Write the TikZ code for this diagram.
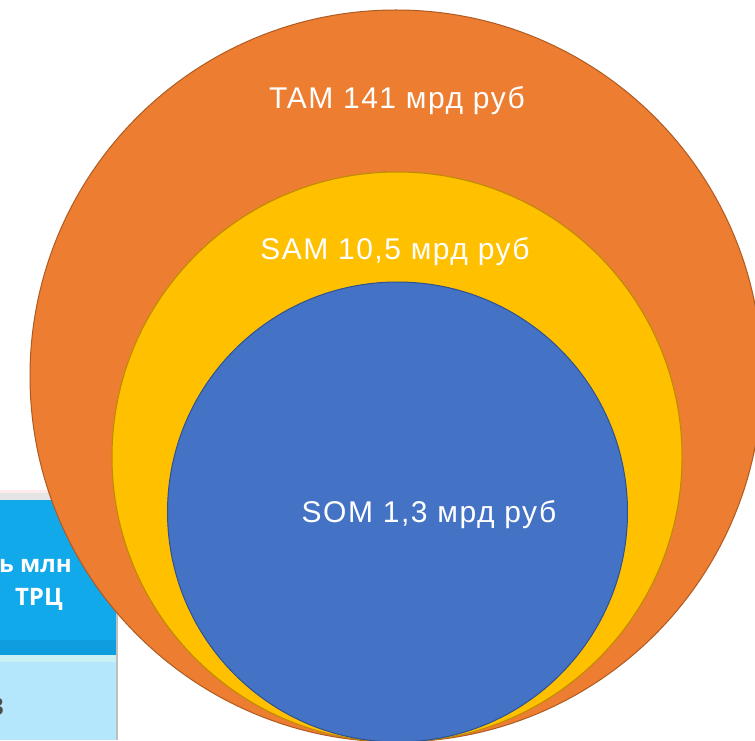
\documentclass[tikz,border=0pt]{standalone}
\usepackage{fontspec}
\setmainfont{Liberation Sans}
\newfontfamily\tablefont{Open Sans}
\usepackage{tikz}
\usetikzlibrary{positioning}

\definecolor{tamfill}{HTML}{ED7D31}
\definecolor{tamline}{HTML}{AE5A21}
\definecolor{samfill}{HTML}{FFC000}
\definecolor{samline}{HTML}{BC8C00}
\definecolor{somfill}{HTML}{4472C4}
\definecolor{somline}{HTML}{2F528F}
\definecolor{hdrblue}{HTML}{12A9EA}
\definecolor{hdrdark}{HTML}{0E9EE0}
\definecolor{rowblue}{HTML}{B4E7FB}
\definecolor{rowline}{HTML}{CBF0F4}

\tikzset{market/.style={circle,inner sep=0pt,line width=1pt}}
\tikzset{marketlabel/.style={text=white,font=\addfontfeature{LetterSpace=5}\fontsize{30}{34}\selectfont,anchor=base,inner sep=0pt}}
\tikzset{cell/.style={text=white,font=\tablefont\bfseries\fontsize{24}{28}\selectfont,anchor=base east,inner sep=0pt}}

\begin{document}
\begin{tikzpicture}[x=1pt,y=1pt]
    \useasboundingbox (0,0) rectangle (755,740);
    \clip (0,0) rectangle (755,740);
    % table behind
    \fill[rowblue] (0,0) rectangle (118,78);
    \fill[rowline] (0,78) rectangle (118,85);
    \fill[hdrdark] (0,85) rectangle (118,100);
    \fill[hdrblue] (0,100) rectangle (118,240);
    \fill[black!10] (0,240) rectangle (118,247);
    \fill[red!8] (0,247) rectangle (118,250);
    \fill[black!25] (116,0) rectangle (118,247);
    \node[cell] (hdrone) at (72,168) {ь млн};
    \node[cell] (hdrtwo) at (63,135) {ТРЦ};
    \node[cell,text=black!70] (rowone) at (4,25) {3};
    % circles
    \node[market,minimum size=732pt,draw=tamline,fill=tamfill] (tam) at (396,364) {};
    \node[market,minimum size=570pt,draw=samline,fill=samfill] (sam) at (397,283) {};
    \node[market,minimum size=460pt,draw=somline,fill=somfill] (som) at (397.5,228) {};
    \node[marketlabel] (tamtext) at (397,631) {TAM 141 мрд руб};
    \node[marketlabel] (samtext) at (395,480) {SAM 10,5 мрд руб};
    \node[marketlabel] (somtext) at (429,218) {SOM 1,3 мрд руб};
\end{tikzpicture}
\end{document}
